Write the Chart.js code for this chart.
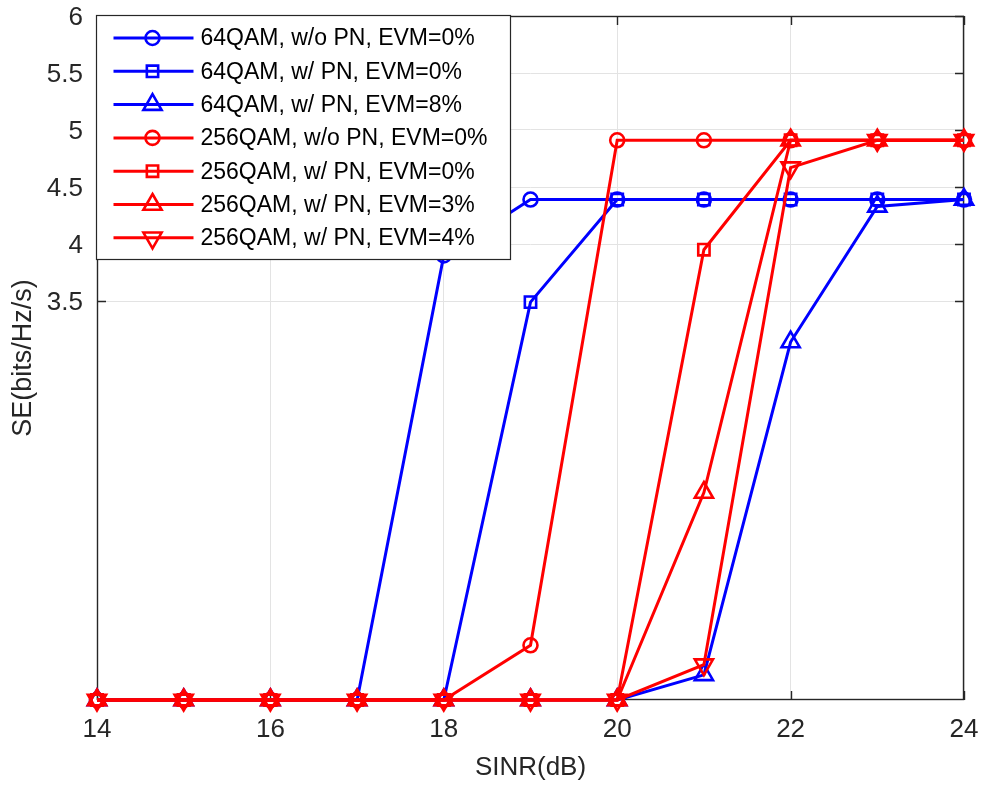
<!DOCTYPE html>
<html>
<head>
<meta charset="utf-8">
<script src="https://cdn.jsdelivr.net/npm/chart.js@4.4.1/dist/chart.umd.min.js"></script>
<style>
html,body{margin:0;padding:0;background:#fff;}
#wrap{width:983px;height:787px;}
</style>
</head>
<body>
<div id="wrap"><canvas id="c" width="983" height="787"></canvas></div>
<script>
const sinr = [14, 15, 16, 17, 18, 19, 20, 21, 22, 23, 24];
const qam64NoPN     = [0, 0, 0, 0, 3.90, 4.39, 4.39, 4.39, 4.39, 4.39, 4.39];
const qam64PN0      = [0, 0, 0, 0, 0, 3.49, 4.39, 4.39, 4.39, 4.39, 4.39];
const qam64PN8      = [0, 0, 0, 0, 0, 0, 0, 0.22, 3.14, 4.33, 4.39];
const qam256NoPN    = [0, 0, 0, 0, 0, 0.48, 4.91, 4.91, 4.91, 4.91, 4.91];
const qam256PN0     = [0, 0, 0, 0, 0, 0, 0, 3.95, 4.91, 4.91, 4.91];
const qam256PN3     = [0, 0, 0, 0, 0, 0, 0, 1.82, 4.91, 4.91, 4.91];
const qam256PN4     = [0, 0, 0, 0, 0, 0, 0, 0.31, 4.67, 4.91, 4.91];
const seriesLabels = [
  '64QAM, w/o PN, EVM=0%',
  '64QAM, w/ PN, EVM=0%',
  '64QAM, w/ PN, EVM=8%',
  '256QAM, w/o PN, EVM=0%',
  '256QAM, w/ PN, EVM=0%',
  '256QAM, w/ PN, EVM=3%',
  '256QAM, w/ PN, EVM=4%'
];
const xTicks = [14, 16, 18, 20, 22, 24];
const yTicks = [3.5, 4, 4.5, 5, 5.5, 6];

const BLUE = '#0000ff', RED = '#ff0000';
const FONT = '"Liberation Sans", Arial, Helvetica, sans-serif';
const AXC = '#262626';

const seriesValues = [qam64NoPN, qam64PN0, qam64PN8, qam256NoPN, qam256PN0, qam256PN3, qam256PN4];
const styles = [
  {c: BLUE, ps: 'circle', r: 7, rot: 0},
  {c: BLUE, ps: 'rect', r: 8, rot: 0},
  {c: BLUE, ps: 'triangle', r: 10.5, rot: 0},
  {c: RED, ps: 'circle', r: 7, rot: 0},
  {c: RED, ps: 'rect', r: 8, rot: 0},
  {c: RED, ps: 'triangle', r: 10.5, rot: 0},
  {c: RED, ps: 'triangle', r: 10.5, rot: 180}
];

const datasets = seriesValues.map((vals, i) => ({
  label: seriesLabels[i],
  data: sinr.map((x, k) => ({x: x, y: vals[k]})),
  borderColor: styles[i].c,
  backgroundColor: 'rgba(0,0,0,0)',
  borderWidth: 3,
  pointStyle: styles[i].ps,
  pointRadius: styles[i].r,
  pointHoverRadius: styles[i].r,
  pointRotation: styles[i].rot,
  pointBorderWidth: 2.6,
  pointBorderColor: styles[i].c,
  pointBackgroundColor: 'rgba(0,0,0,0)',
  tension: 0,
  fill: false,
  clip: false,
  order: seriesValues.length - i
}));

const boxPlugin = {
  id: 'matlabBox',
  beforeDatasetsDraw(chart) {
    const {ctx, chartArea: a, scales} = chart;
    ctx.save();
    ctx.strokeStyle = AXC;
    ctx.lineWidth = 1.4;
    ctx.strokeRect(a.left + 0.5, a.top + 0.5, a.right - a.left - 1, a.bottom - a.top - 1);
    const L = 9;
    ctx.beginPath();
    xTicks.forEach(v => {
      const px = Math.round(scales.x.getPixelForValue(v)) + 0.5;
      ctx.moveTo(px, a.bottom); ctx.lineTo(px, a.bottom - L);
      ctx.moveTo(px, a.top); ctx.lineTo(px, a.top + L);
    });
    yTicks.forEach(v => {
      const py = Math.round(scales.y.getPixelForValue(v)) + 0.5;
      ctx.moveTo(a.left, py); ctx.lineTo(a.left + L, py);
      ctx.moveTo(a.right, py); ctx.lineTo(a.right - L, py);
    });
    ctx.stroke();
    ctx.restore();
  },
  afterDatasetsDraw(chart) {
    const {ctx, chartArea: a} = chart;
    const x0 = a.left - 0.5, y0 = a.top - 0.5;
    const w = 414, h = 244, rowH = 33.3;
    ctx.save();
    ctx.fillStyle = '#ffffff';
    ctx.fillRect(x0, y0, w, h);
    ctx.strokeStyle = AXC;
    ctx.lineWidth = 1.2;
    ctx.strokeRect(x0, y0, w, h);
    chart.data.datasets.forEach((ds, i) => {
      const cy = y0 + 22.5 + i * rowH;
      ctx.strokeStyle = ds.borderColor;
      ctx.lineWidth = 3;
      ctx.beginPath();
      ctx.moveTo(x0 + 17, cy);
      ctx.lineTo(x0 + 97, cy);
      ctx.stroke();
      ctx.lineWidth = 2.6;
      ctx.fillStyle = 'rgba(0,0,0,0)';
      Chart.helpers.drawPoint(ctx, {
        pointStyle: ds.pointStyle,
        rotation: ds.pointRotation,
        radius: ds.pointRadius,
        borderWidth: 2.6
      }, x0 + 56, cy);
      ctx.fillStyle = '#000000';
      ctx.font = '23px ' + FONT;
      ctx.textAlign = 'left';
      ctx.textBaseline = 'middle';
      ctx.fillText(ds.label, x0 + 104, cy + 1);
    });
    ctx.restore();
  }
};

new Chart(document.getElementById('c'), {
  type: 'line',
  data: {datasets: datasets},
  options: {
    responsive: false,
    animation: false,
    devicePixelRatio: 1,
    layout: {padding: {top: 16, right: 19, left: 0, bottom: 0}},
    plugins: {legend: {display: false}, tooltip: {enabled: false}},
    events: [],
    scales: {
      x: {
        type: 'linear',
        min: 14, max: 24,
        afterBuildTicks(scale) { scale.ticks = xTicks.map(v => ({value: v})); },
        afterFit(scale) { scale.height = 87; scale.paddingLeft = 0; scale.paddingRight = 0; },
        grid: {color: '#e3e3e3', lineWidth: 1, drawTicks: false},
        border: {display: false},
        ticks: {color: AXC, font: {family: FONT, size: 26}, padding: 14, maxRotation: 0,
          callback: v => String(v)},
        title: {display: true, text: 'SINR(dB)', color: AXC, font: {family: FONT, size: 26},
          padding: {top: 0, bottom: 4}}
      },
      y: {
        type: 'linear',
        min: 0, max: 6,
        afterBuildTicks(scale) { scale.ticks = yTicks.map(v => ({value: v})); },
        afterFit(scale) { scale.width = 97; scale.paddingTop = 0; scale.paddingBottom = 0; },
        grid: {color: '#e3e3e3', lineWidth: 1, drawTicks: false},
        border: {display: false},
        ticks: {color: AXC, font: {family: FONT, size: 26}, padding: 14, labelOffset: 2,
          callback: v => String(v)},
        title: {display: true, text: 'SE(bits/Hz/s)', color: AXC, font: {family: FONT, size: 27},
          padding: {top: 7, bottom: 0}}
      }
    }
  },
  plugins: [boxPlugin]
});
</script>
</body>
</html>
